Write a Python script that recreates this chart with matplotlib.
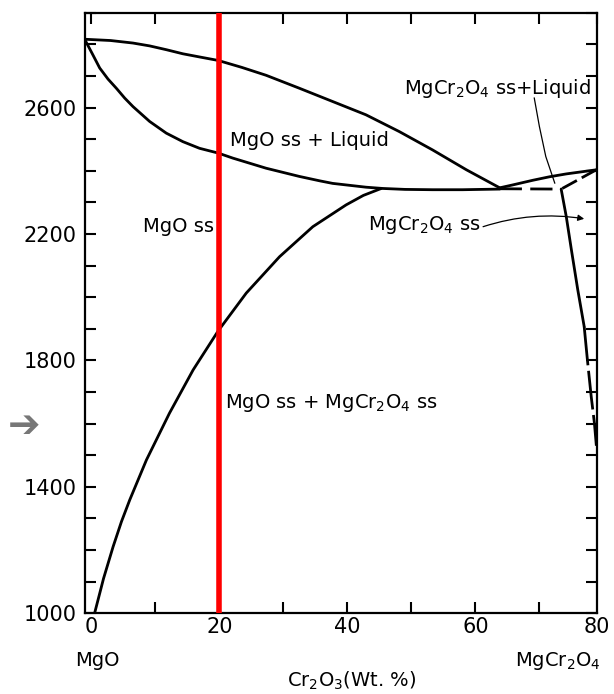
import matplotlib
matplotlib.use('Agg')
import matplotlib.pyplot as plt

plt.rcParams['font.family'] = ['DejaVu Sans']
plt.rcParams['mathtext.fontset'] = 'dejavusans'

# MgO liquidus
liq_mgo_x = [-1.0, 3.0, 6.5, 9.1, 11.7, 14.3, 16.9, 19.8, 23.5, 27.3, 32.5, 37.7, 42.9,
             48.1, 53.3, 58.6, 63.8]
liq_mgo_y = [2816, 2812, 2804, 2795, 2783, 2770, 2760, 2749, 2727, 2702, 2661, 2619, 2577,
             2524, 2466, 2403, 2346]

# MgO ss solidus, running on to the eutectic
sol_mgo_x = [-1.0, 0.2, 1.3, 2.6, 3.9, 5.2, 6.5, 9.1, 11.7, 14.3, 16.9, 19.8, 22.1, 27.3,
             32.5, 35.7, 37.7, 42.9, 45.5, 49.0, 53.3, 58.0, 63.8]
sol_mgo_y = [2814, 2768, 2725, 2690, 2661, 2630, 2603, 2556, 2519, 2492, 2471, 2456, 2440,
             2408, 2382, 2368, 2360, 2348, 2344, 2341, 2340, 2340, 2342]

# MgO ss solvus
solv_mgo_x = [0.5, 1.9, 3.4, 4.7, 6.0, 8.6, 12.2, 15.9, 19.8, 24.2, 29.4, 34.6, 39.8,
              42.5, 45.3]
solv_mgo_y = [1000, 1110, 1211, 1290, 1359, 1485, 1633, 1770, 1893, 2013, 2128, 2223, 2292,
              2322, 2344]

# MgCr2O4 liquidus
liq_sp_x = [63.8, 65.8, 69.0, 71.6, 74.2, 77.8, 78.9]
liq_sp_y = [2346, 2355, 2370, 2381, 2390, 2400, 2403]

# eutectic (dashed) and MgCr2O4 ss solidus (dashed)
eut_x = [63.8, 73.4]
eut_y = [2343, 2342]
sol_sp_x = [78.9, 73.4]
sol_sp_y = [2403, 2342]

# MgCr2O4 ss solvus: solid upper part, broken lower part
solv_sp_x = [73.4, 74.2, 75.0, 76.0, 77.0]
solv_sp_y = [2342, 2255, 2150, 2023, 1907]
solv_sp2_x = [77.0, 77.5, 78.1, 78.6, 78.9]
solv_sp2_y = [1907, 1802, 1685, 1601, 1530]

# leader line from the "MgCr2O4 ss+Liquid" label
lead_x = [69.2, 70.0, 71.0, 72.4]
lead_y = [2630, 2540, 2445, 2361]

section_x = 20

xticks = [0, 10, 20, 30, 40, 50, 60, 70, 79]
xlabels = ['0', '', '20', '', '40', '', '60', '', '80']
yticks = list(range(1000, 2901, 100))
ylabels = [str(v) if v in (1000, 1400, 1800, 2200, 2600) else '' for v in yticks]

fig = plt.figure(figsize=(6.14, 6.94), dpi=100)
ax = fig.add_axes([0.1384, 0.1163, 0.8339, 0.8654])

line = dict(color='black', lw=2.0, solid_joinstyle='round', solid_capstyle='round')
ax.plot(liq_mgo_x, liq_mgo_y, **line)
ax.plot(sol_mgo_x, sol_mgo_y, **line)
ax.plot(solv_mgo_x, solv_mgo_y, **line)
ax.plot(liq_sp_x, liq_sp_y, **line)
ax.plot(eut_x, eut_y, color='black', lw=2.0, dashes=(8, 3))
ax.plot(sol_sp_x, sol_sp_y, color='black', lw=2.0, dashes=(6, 2))
ax.plot(solv_sp_x, solv_sp_y, **line)
ax.plot(solv_sp2_x, solv_sp2_y, color='black', lw=2.0, dashes=(14, 2))
ax.plot(lead_x, lead_y, color='black', lw=0.9)

ax.annotate('', xy=(77.0, 2248), xytext=(61.2, 2223),
            arrowprops=dict(arrowstyle='-|>', color='black', lw=0.9,
                            mutation_scale=9, shrinkA=0, shrinkB=0,
                            connectionstyle='arc3,rad=-0.12'))

ax.axvline(section_x, color='#ff0000', lw=4.0, zorder=5)

fs = 14
ax.text(34.1, 2495, 'MgO ss + Liquid', fontsize=fs, ha='center', va='center')
ax.text(13.65, 2223, 'MgO ss', fontsize=fs, ha='center', va='center')
ax.text(20.8, 1665, r'MgO ss + MgCr$_2$O$_4$ ss', fontsize=fs, ha='left', va='center')
ax.text(43.2, 2229, r'MgCr$_2$O$_4$ ss', fontsize=fs, ha='left', va='center')
ax.text(48.9, 2661, r'MgCr$_2$O$_4$ ss+Liquid', fontsize=fs, ha='left', va='center')

ax.set_xlim(-1, 79)
ax.set_ylim(1000, 2900)
ax.set_xticks(xticks)
ax.set_xticklabels(xlabels)
ax.set_yticks(yticks)
ax.set_yticklabels(ylabels)
for t in (ax.xaxis.get_major_ticks()[0], ax.xaxis.get_major_ticks()[-1]):
    t.tick1line.set_visible(False)
    t.tick2line.set_visible(False)
ax.tick_params(axis='both', direction='in', length=8, width=1.5,
               top=True, right=True, labelsize=15)
ax.tick_params(axis='x', pad=3)
ax.tick_params(axis='y', pad=6)
for s in ax.spines.values():
    s.set_linewidth(1.6)

ax.text(0.025, -0.079, 'MgO', transform=ax.transAxes, fontsize=fs,
        ha='center', va='center')
ax.text(0.924, -0.079, r'MgCr$_2$O$_4$', transform=ax.transAxes, fontsize=fs,
        ha='center', va='center')
ax.text(0.52, -0.113, r'Cr$_2$O$_3$(Wt. %)', transform=ax.transAxes, fontsize=fs,
        ha='center', va='center')

# grey pointer left of the axis
fig.text(0.039, 1 - 426 / 694, '\u2794', fontsize=28, color='#777777',
         ha='center', va='center')

fig.savefig('out.png', dpi=100)
